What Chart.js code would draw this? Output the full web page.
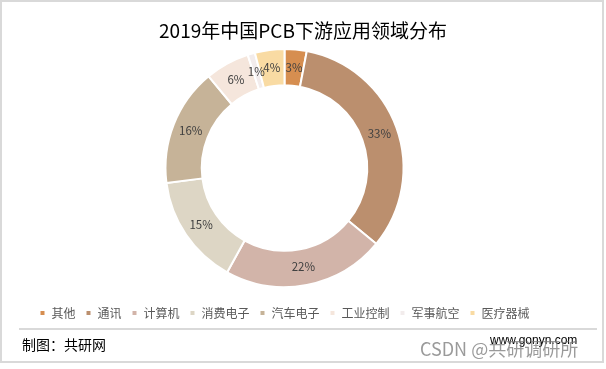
<!DOCTYPE html>
<html>
<head>
<meta charset="utf-8">
<script src="https://cdn.jsdelivr.net/npm/chart.js@4"></script>
<style>
  html, body { margin: 0; padding: 0; background: #fff; }
  #wrap { position: relative; width: 606px; height: 369px; overflow: hidden; font-family: "Noto Sans CJK SC", sans-serif; }
  #frame { position: absolute; left: 0; top: 0; width: 604px; height: 363px; box-sizing: border-box; border: 2px solid #d9d9d9; }
  #chart { position: absolute; left: 0; top: 0; }
  .txt { position: absolute; white-space: nowrap; line-height: 1; }
  #title { left: 0; width: 606px; top: 20px; text-align: center; font-size: 19px; color: #000; }
  #sep { position: absolute; left: 19px; top: 328px; width: 578px; height: 2px; background: #d9d9d9; }
  #src { left: 22px; top: 337px; font-size: 14px; color: #000; }
  #site { left: 490px; top: 334px; font-size: 12px; color: #000; font-family: "Liberation Sans", Arial, sans-serif; }
  #mark { left: 420px; top: 339px; font-size: 18px; color: rgba(120,120,120,0.75); }
</style>
</head>
<body>
<div id="wrap">
  <div id="frame"></div>
  <canvas id="chart" width="606" height="369"></canvas>
  <div class="txt" id="title">2019年中国PCB下游应用领域分布</div>
  <div id="sep"></div>
  <div class="txt" id="src">制图：共研网</div>
  <div class="txt" id="site">www.gonyn.com</div>
  <div class="txt" id="mark">CSDN @共研调研所</div>
</div>
<script>
// segment names, shares (%) and fills
const sectors = ['其他', '通讯', '计算机', '消费电子', '汽车电子', '工业控制', '军事航空', '医疗器械'];
const shares = [3, 33, 22, 15, 16, 6, 1, 4];
const sectorColors = ['#D68E50', '#BB8F6E', '#D2B4A9', '#DDD6C5', '#C6B398', '#F5E6DC', '#F2ECEC', '#F9DBA3'];

// percentage text in the middle of each ring segment
const ringLabels = {
    id: 'ringLabels',
    afterDatasetsDraw(chart) {
        const ctx = chart.ctx;
        const meta = chart.getDatasetMeta(0);
        ctx.save();
        ctx.font = '11.5px "Noto Sans CJK SC", sans-serif';
        ctx.fillStyle = '#404040';
        ctx.textAlign = 'center';
        ctx.textBaseline = 'middle';
        meta.data.forEach((arc, i) => {
            const pos = arc.tooltipPosition();
            ctx.fillText(shares[i] + '%', pos.x, pos.y);
        });
        ctx.restore();
    }
};

new Chart(document.getElementById('chart'), {
    type: 'doughnut',
    data: {
        labels: sectors,
        datasets: [{
            data: shares,
            backgroundColor: sectorColors,
            borderColor: '#ffffff',
            borderWidth: 2,
            radius: 119,
            cutout: 89
        }]
    },
    options: {
        responsive: false,
        animation: false,
        layout: {
            padding: { top: 39, bottom: 40, left: 0, right: 37 }
        },
        plugins: {
            title: { display: false },
            tooltip: { enabled: false },
            legend: {
                position: 'bottom',
                labels: {
                    boxWidth: 6,
                    boxHeight: 6,
                    padding: 10,
                    color: '#595959',
                    font: { size: 12, family: '"Noto Sans CJK SC", sans-serif' }
                }
            }
        }
    },
    plugins: [ringLabels]
});
</script>
</body>
</html>
